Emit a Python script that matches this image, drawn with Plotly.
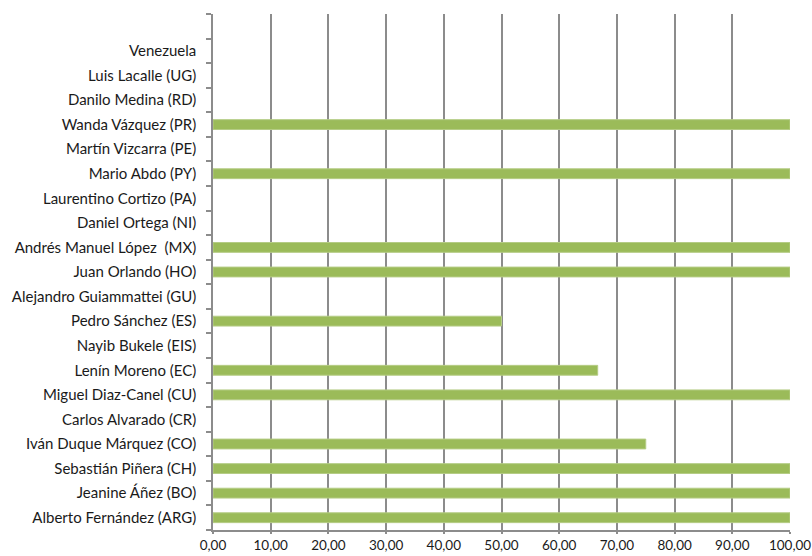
import plotly.graph_objects as go

# Leaders, listed from bottom to top of the chart; a blank slot sits above the last one
leaders = [
    "Alberto Fernández (ARG)",
    "Jeanine Áñez (BO)",
    "Sebastián Piñera (CH)",
    "Iván Duque Márquez (CO)",
    "Carlos Alvarado (CR)",
    "Miguel Diaz-Canel (CU)",
    "Lenín Moreno (EC)",
    "Nayib Bukele (EIS)",
    "Pedro Sánchez (ES)",
    "Alejandro Guiammattei (GU)",
    "Juan Orlando (HO)",
    "Andrés Manuel López  (MX)",
    "Daniel Ortega (NI)",
    "Laurentino Cortizo (PA)",
    "Mario Abdo (PY)",
    "Martín Vizcarra (PE)",
    "Wanda Vázquez (PR)",
    "Danilo Medina (RD)",
    "Luis Lacalle (UG)",
    "Venezuela",
]
scores = [100, 100, 100, 75, 0, 100, 66.67, 0, 50, 0,
          100, 100, 0, 0, 100, 0, 100, 0, 0, 0]

x_ticks = list(range(0, 101, 10))

category_order = leaders + [" "]

# thin light edge only on bars that actually have length
edge_widths = [1 if v > 0 else 0 for v in scores]

fig = go.Figure(
    go.Bar(
        y=leaders,
        x=scores,
        orientation="h",
        width=0.4,
        marker=dict(color="#9bbb59", line=dict(color="#b5cc85", width=edge_widths)),
    )
)

fig.update_layout(
    width=812,
    height=556,
    margin=dict(l=213, r=22, t=14, b=26),
    paper_bgcolor="white",
    plot_bgcolor="white",
    separators=",.",
    showlegend=False,
    font=dict(family="Lato", size=15, color="#1a1a1a"),
)

fig.update_xaxes(
    range=[0, 100],
    tickvals=x_ticks,
    tickformat=".2f",
    ticklabeloverflow="allow",
    automargin=False,
    showgrid=True,
    gridcolor="#8c8c8c",
    gridwidth=1.5,
    zeroline=False,
    showline=True,
    linecolor="#8c8c8c",
    linewidth=1.5,
    ticks="outside",
    ticklen=2,
    tickcolor="#8c8c8c",
    tickwidth=1.5,
    tickfont=dict(size=13.5),
)

fig.update_yaxes(
    type="category",
    categoryorder="array",
    categoryarray=category_order,
    range=[-0.5, len(category_order) - 0.5],
    automargin=False,
    showgrid=False,
    showline=True,
    linecolor="#8c8c8c",
    linewidth=1.5,
    ticks="outside",
    tickson="boundaries",
    ticklen=5,
    tickcolor="#8c8c8c",
    tickwidth=1.5,
    ticklabelstandoff=12,
    tickfont=dict(size=15),
)

fig.write_html("out.html")
